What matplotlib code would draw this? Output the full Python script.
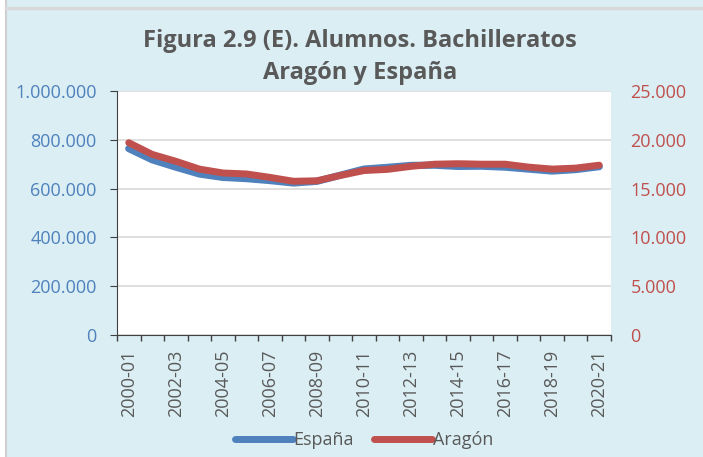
import numpy as np
import matplotlib.pyplot as plt
from matplotlib.ticker import FuncFormatter, MultipleLocator
from matplotlib.lines import Line2D

# ==========================================================
# Data
# ==========================================================

cursos = [f"{y}-{str(y + 1)[2:]}" for y in range(2000, 2021)]

espana = [764000, 718000, 688000, 660000, 646000, 641000, 633000, 623000,
          630000, 655000, 680000, 687000, 695000, 696000, 691000, 692000,
          688000, 680000, 672000, 678000, 690000]

aragon = [19700, 18500, 17800, 17000, 16600, 16500, 16150, 15750,
          15800, 16350, 16850, 16970, 17280, 17500, 17550, 17500,
          17500, 17200, 17000, 17100, 17400]

# ==========================================================
# Style
# ==========================================================

plt.rcParams['font.family'] = ['Open Sans', 'DejaVu Sans']

bg = '#DAEEF3'
blue = '#4F81BD'
red = '#C0504D'
grey_txt = '#595959'

W, H = 703, 457
tick_fs = 13


def thousands(v, pos):
    return f"{int(round(v)):,}".replace(",", ".")


fig = plt.figure(figsize=(W / 100, H / 100), dpi=100, facecolor='white')

# chart box background + borders
fig.patches.append(plt.Rectangle((6 / W, 0), 1, 1, transform=fig.transFigure,
                                 facecolor=bg, edgecolor='none', zorder=-3))
fig.add_artist(Line2D([5.5 / W, 5.5 / W], [0, 1], color='#D0D0D0', lw=1.5,
                      transform=fig.transFigure))
fig.add_artist(Line2D([5.5 / W, 1], [1 - 8 / H, 1 - 8 / H], color='#D9D9D9',
                      lw=2.5, transform=fig.transFigure))

ax = fig.add_axes([117 / W, 122 / H, (611 - 117) / W, (335 - 91) / H])
ax.set_facecolor('white')
ax2 = ax.twinx()

x = np.arange(len(cursos))

ax.plot(x, espana, color=blue, lw=5.2, solid_capstyle='round', zorder=3)
ax2.plot(x, aragon, color=red, lw=5, solid_capstyle='round', zorder=3)

ax.set_xlim(-0.5, len(cursos) - 0.5)
ax.set_ylim(0, 1000000)
ax2.set_ylim(0, 25000)

ax.yaxis.set_major_locator(MultipleLocator(200000))
ax2.yaxis.set_major_locator(MultipleLocator(5000))
ax.yaxis.set_major_formatter(FuncFormatter(thousands))
ax2.yaxis.set_major_formatter(FuncFormatter(thousands))

ax.grid(axis='y', color='#D9D9D9', lw=1.2)
ax.set_axisbelow(True)

# category ticks between labels
ax.set_xticks(x[::2])
ax.set_xticklabels(cursos[::2], rotation=90, color=grey_txt, fontsize=tick_fs)
ax.set_xticks(np.arange(-0.5, len(cursos), 1), minor=True)
ax.tick_params(axis='x', which='major', length=0, pad=10.5)
ax.tick_params(axis='x', which='minor', length=4.5, color='#404040', width=1)

ax.tick_params(axis='y', colors=blue, labelsize=tick_fs, length=5, pad=9.5)
ax.tick_params(axis='y', which='major', color='#404040')
ax2.tick_params(axis='y', colors=red, labelsize=tick_fs, length=0, pad=14)

for a in (ax, ax2):
    a.spines['top'].set_visible(False)
    a.spines['right'].set_visible(False)
ax2.spines['left'].set_visible(False)
ax2.spines['bottom'].set_visible(False)
ax.spines['left'].set_color('#404040')
ax.spines['bottom'].set_color('#404040')

fig.text(360 / W, 1 - 41 / H, "Figura 2.9 (E). Alumnos. Bachilleratos",
         ha='center', va='center', fontsize=17, fontweight='bold',
         color=grey_txt)
fig.text(360 / W, 1 - 73 / H, "Aragón y España",
         ha='center', va='center', fontsize=17, fontweight='bold',
         color=grey_txt)

handles = [Line2D([], [], color=blue, lw=5, solid_capstyle='round'),
           Line2D([], [], color=red, lw=5, solid_capstyle='round')]
leg = fig.legend(handles, ["España", "Aragón"], ncol=2, frameon=False,
                 loc='center', bbox_to_anchor=(364 / W, 1 - 440 / H),
                 fontsize=13, handlelength=3.2, handletextpad=0.05,
                 columnspacing=1.1)
for t in leg.get_texts():
    t.set_color(grey_txt)

fig.savefig("out.png", dpi=100, facecolor=fig.get_facecolor())
